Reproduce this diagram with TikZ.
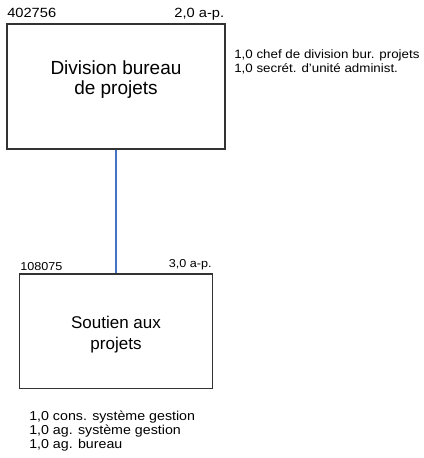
\documentclass[tikz,border=0pt]{standalone}
\usepackage{fontspec}
\setmainfont{Liberation Sans}
\newfontfamily\widefont[FakeStretch=1.1]{Liberation Sans}
\definecolor{linkblue}{RGB}{68,114,196}

\begin{document}
\begin{tikzpicture}[x=0.75pt,y=-0.75pt,
    unitbox/.style={draw=black!80,line width=1.1pt,inner sep=0pt},
    title/.style={align=center,inner sep=0pt},
    code/.style={inner sep=0pt,font=\widefont\fontsize{10}{11}\selectfont},
    staff/.style={anchor=base west,inner sep=0pt,font=\widefont\fontsize{9.1}{10}\selectfont}]
      \useasboundingbox (0,0) rectangle (424,458);

      % Draw units
      \node [unitbox,minimum width=218*0.75pt,minimum height=125*0.75pt] (div) at (116,86.5) {};
      \node [unitbox,minimum width=193.4*0.75pt,minimum height=114.7*0.75pt] (sout) at (116,331.4) {};
      \draw [linkblue,line width=0.9pt] (div) -- (sout);

      \node [title,font=\fontsize{14.25}{15}\selectfont] (divtitle) at (116,79.2) {Division bureau\\de projets};
      \node [title,font=\fontsize{12.75}{15.75}\selectfont] (souttitle) at (116,334.2) {Soutien aux\\projets};

      % Codes and positions
      \node [code,anchor=base west] (divcode) at (7,17.5) {402756};
      \node [code,anchor=base east] (divap) at (224.5,17.5) {2,0 a-p.};
      \node [code,anchor=base west,font=\widefont\fontsize{8.6}{10}\selectfont] (soutcode) at (20,270) {108075};
      \node [code,anchor=base east,font=\widefont\fontsize{8.6}{10}\selectfont] (soutap) at (212,267.5) {3,0 a-p.};

      % Staff lists
      \node [staff] (divstaff1) at (234,58.5) {1,0 chef de division bur. projets};
      \node [staff] (divstaff2) at (234,72.5) {1,0 secrét. d’unité administ.};
      \node [staff,font=\widefont\fontsize{9.7}{10}\selectfont] (soutstaff1) at (29,420) {1,0 cons. système gestion};
      \node [staff,font=\widefont\fontsize{9.7}{10}\selectfont] (soutstaff2) at (29,434) {1,0 ag. système gestion};
      \node [staff,font=\widefont\fontsize{9.7}{10}\selectfont] (soutstaff3) at (29,448) {1,0 ag. bureau};
  \end{tikzpicture}
\end{document}
